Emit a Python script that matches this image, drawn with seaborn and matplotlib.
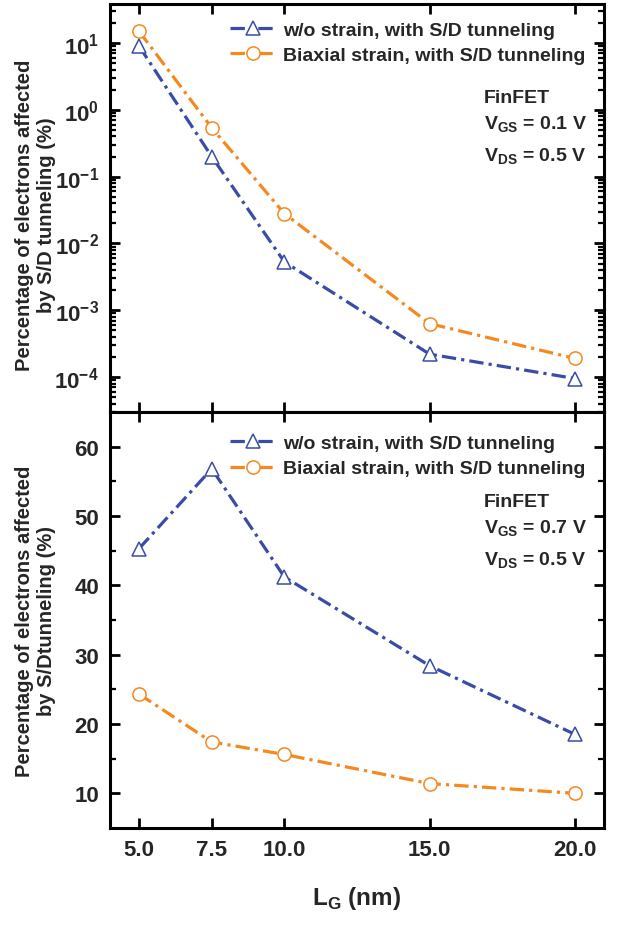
import numpy as np
import pandas as pd
import matplotlib
matplotlib.use("Agg")
import matplotlib.pyplot as plt
import seaborn as sns
from matplotlib.ticker import LogFormatterSciNotation, FixedLocator, NullFormatter

# data
lg = [5.0, 7.5, 10.0, 15.0, 20.0]
top_nostrain = [9.0, 0.2, 0.0053, 2.2e-4, 9.5e-5]
top_biaxial = [15.0, 0.54, 0.028, 6.3e-4, 1.9e-4]
bot_nostrain = [45.3, 56.8, 41.2, 28.4, 18.5]
bot_biaxial = [24.3, 17.4, 15.6, 11.4, 10.0]
xticklabels = ["5.0", "7.5", "10.0", "15.0", "20.0"]
top_yticks = [1e-4, 1e-3, 1e-2, 1e-1, 1e0, 1e1]
bot_yticks = [10, 20, 30, 40, 50, 60]
lab_nostrain = "w/o strain, with S/D tunneling"
lab_biaxial = "Biaxial strain, with S/D tunneling"

sns.set_style("white")
plt.rcParams['font.family'] = ['Liberation Sans', 'DejaVu Sans']
plt.rcParams['font.weight'] = 'bold'
plt.rcParams['mathtext.fontset'] = 'custom'
plt.rcParams['mathtext.rm'] = 'Liberation Sans:bold'
plt.rcParams['mathtext.bf'] = 'Liberation Sans:bold'

blue = '#3a4ca6'
orange = '#f5891f'
dashdot = (0, (4.5, 1.6, 1.0, 1.6))

fig = plt.figure(figsize=(6.23, 9.45), dpi=100)
ax1 = fig.add_axes([0.1766, 0.5630, 0.7929, 0.4317])
ax2 = fig.add_axes([0.1766, 0.1228, 0.7929, 0.4402], sharex=ax1)


def draw(ax, y1, y2, leg_top):
    df = pd.DataFrame({"lg": lg, "a": y1, "b": y2})
    sns.lineplot(data=df, x="lg", y="a", ax=ax, color=blue, linestyle=dashdot,
                 linewidth=2.3, marker='^', markersize=10.5, markerfacecolor='white',
                 markeredgecolor=blue, markeredgewidth=1.1, label=lab_nostrain)
    sns.lineplot(data=df, x="lg", y="b", ax=ax, color=orange, linestyle=dashdot,
                 linewidth=2.3, marker='o', markersize=9.5, markerfacecolor='white',
                 markeredgecolor=orange, markeredgewidth=1.1, label=lab_biaxial)
    for s in ax.spines.values():
        s.set_linewidth(2.2)
        s.set_color('black')
    ax.tick_params(which='both', direction='in', top=True, right=True, bottom=True, left=True,
                   labelsize=16, width=2, color='black')
    ax.tick_params(which='major', length=7)
    ax.tick_params(which='minor', length=4, width=1.6)
    ax.tick_params(axis='y', pad=8)
    ax.legend(loc='upper right', frameon=False, fontsize=14, handlelength=2.3,
              handletextpad=0.4, borderaxespad=0, borderpad=0, labelspacing=0.4,
              bbox_to_anchor=(0.962, leg_top))
    ax.set_xlabel("")


draw(ax1, top_nostrain, top_biaxial, 0.958)
draw(ax2, bot_nostrain, bot_biaxial, 0.946)

ax1.set_yscale('log')
ax1.set_ylim(3.0e-5, 38.5)
ax1.yaxis.set_major_locator(FixedLocator(top_yticks))
ax1.yaxis.set_major_formatter(LogFormatterSciNotation())
# minor ticks 2..9 per decade, kept inside the visible range
minor_top = [m * 10.0 ** e for e in range(-5, 2) for m in range(2, 10)
             if 3.0e-5 < m * 10.0 ** e < 38.5]
ax1.yaxis.set_minor_locator(FixedLocator(minor_top))
ax1.yaxis.set_minor_formatter(NullFormatter())
ax1.set_ylabel("Percentage of electrons affected\nby S/D tunneling (%)", fontsize=14.5,
               fontweight='bold', linespacing=1.15)
ax1.yaxis.set_label_coords(-0.11, 0.485)
ax1.tick_params(labelbottom=False)

ax2.set_ylim(5, 65)
ax2.yaxis.set_major_locator(FixedLocator(bot_yticks))
ax2.yaxis.set_minor_locator(FixedLocator([15, 25, 35, 45, 55]))
ax2.yaxis.set_minor_formatter(NullFormatter())
ax2.set_ylabel("Percentage of electrons affected\nby S/Dtunneling (%)", fontsize=14.5,
               fontweight='bold', linespacing=1.15)
ax2.yaxis.set_label_coords(-0.11, 0.5)

ax2.set_xlim(4.0, 21.0)
ax2.xaxis.set_major_locator(FixedLocator(lg))
ax2.set_xticklabels(xticklabels)
ax2.xaxis.set_minor_locator(FixedLocator([]))
ax2.tick_params(axis='x', pad=8)
ax2.set_xlabel("L$_{\\mathregular{G}}$ (nm)", fontsize=17.5, fontweight='bold', labelpad=17)

for ax, vgs, ys in [(ax1, "0.1", (0.76, 0.695, 0.617)), (ax2, "0.7", (0.775, 0.71, 0.634))]:
    ax.text(0.757, ys[0], "FinFET", transform=ax.transAxes, fontsize=14, fontweight='bold',
            va='baseline')
    ax.text(0.757, ys[1], "V$_{\\mathregular{GS}}$ = " + vgs + " V", transform=ax.transAxes,
            fontsize=14, fontweight='bold', va='baseline')
    ax.text(0.757, ys[2], "V$_{\\mathregular{DS}}$ = 0.5 V", transform=ax.transAxes,
            fontsize=14, fontweight='bold', va='baseline')

fig.savefig("out.png", dpi=100)
